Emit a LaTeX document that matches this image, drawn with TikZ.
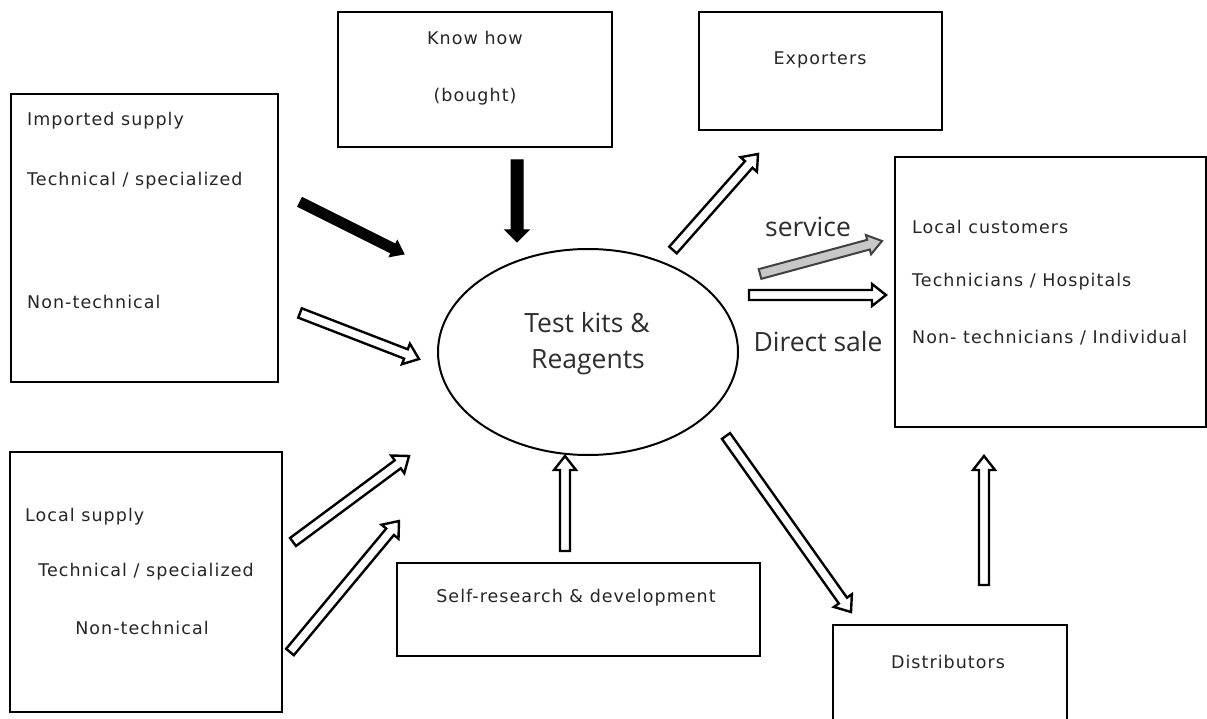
\documentclass[tikz,border=0pt]{standalone}
\usepackage{fontspec}
\usetikzlibrary{calc,shapes.geometric}
\newfontfamily\smallfont[LetterSpace=6]{DejaVu Sans}
\newfontfamily\bigfont{Open Sans}

% block arrow: #1 style, #2 tail, #3 tip, #4 half shaft width, #5 half head width, #6 head length
\newcommand{\blockarr}[6]{%
  \coordinate (bh) at ($(#3)!#6!(#2)$);
  \draw[#1] ($(#2)!#4!90:(#3)$) -- ($(bh)!#4!90:(#3)$) -- ($(bh)!#5!90:(#3)$)
    -- (#3) -- ($(bh)!#5!-90:(#3)$) -- ($(bh)!#4!-90:(#3)$) -- ($(#2)!#4!-90:(#3)$) -- cycle;
}

\tikzset{
  box/.style={draw, line width=2.8pt, inner sep=0pt},
  lbl/.style={font=\smallfont\fontsize{17.5}{20}\selectfont, text=black!85, inner sep=0pt},
  biglbl/.style={font=\bigfont\fontsize{26.5}{30}\selectfont, text=black!82, inner sep=0pt},
  hollow/.style={draw, line width=2.4pt, fill=white, line join=miter},
  solid/.style={draw, line width=1pt, fill=black, line join=miter},
  greyarr/.style={draw=black!75, line width=2pt, fill=black!22, line join=miter},
}

\begin{document}
\begin{tikzpicture}[x=1pt, y=-1pt]
\useasboundingbox (0,0) rectangle (1207,719);
\clip (0,0) rectangle (1207,719);
\fill[white] (0,0) rectangle (1207,719);

% boxes
\node[box, minimum width=267pt, minimum height=288pt] (imp) at (144.5,238) {};
\node[box, minimum width=274pt, minimum height=135pt] (know) at (475,79.5) {};
\node[box, minimum width=243pt, minimum height=118pt] (exp) at (820.5,71) {};
\node[box, minimum width=311pt, minimum height=270pt] (cust) at (1050.5,292) {};
\node[box, minimum width=272pt, minimum height=260pt] (loc) at (146,582) {};
\node[box, minimum width=363pt, minimum height=93pt] (self) at (578.5,609.5) {};
\node[box, minimum width=234pt, minimum height=120pt] (dist) at (950,685) {};

% central ellipse
\node[draw, ellipse, line width=2pt, minimum width=300pt, minimum height=206pt, inner sep=0pt] (kit) at (588,352) {};
\node[biglbl] (kit1) at (587,323) {Test kits \&};
\node[biglbl] (kit2) at (588,362) {Reagents};

% box texts
\node[lbl, anchor=west] (imp1) at (27,121) {Imported supply};
\node[lbl, anchor=west] (imp2) at (27,181) {Technical / specialized};
\node[lbl, anchor=west] (imp3) at (27,302) {Non-technical};
\node[lbl] (know1) at (475,38) {Know how};
\node[lbl] (know2) at (475,97) {(bought)};
\node[lbl] (exp1) at (820,60) {Exporters};
\node[lbl, anchor=west] (cust1) at (912,227) {Local customers};
\node[lbl, anchor=west] (cust2) at (912,282) {Technicians / Hospitals};
\node[lbl, anchor=west] (cust3) at (912,338) {Non- technicians / Individual};
\node[lbl, anchor=west] (loc1) at (25,517) {Local supply};
\node[lbl] (loc2) at (146,572) {Technical / specialized};
\node[lbl] (loc3) at (142,628) {Non-technical};
\node[lbl] (self1) at (576,598) {Self-research \& development};
\node[lbl] (dist1) at (948,662) {Distributors};

\node[biglbl] (svc) at (808,227) {service};
\node[biglbl] (dsale) at (818,342) {Direct sale};

% arrow end points
\coordinate (a1s) at (300,202);  \coordinate (a1e) at (404,254);
\coordinate (a2s) at (300,313);  \coordinate (a2e) at (419,359);
\coordinate (a3s) at (517,160);  \coordinate (a3e) at (517,242);
\coordinate (a4s) at (293,542);  \coordinate (a4e) at (409,456);
\coordinate (a5s) at (290,652);  \coordinate (a5e) at (399,521);
\coordinate (a6s) at (565,551);  \coordinate (a6e) at (565,456);
\coordinate (a7s) at (673,250);  \coordinate (a7e) at (758,154);
\coordinate (a8s) at (760,274);  \coordinate (a8e) at (882,241);
\coordinate (a9s) at (749,295);  \coordinate (a9e) at (886,295);
\coordinate (a10s) at (726,436); \coordinate (a10e) at (851,612);
\coordinate (a11s) at (984,585); \coordinate (a11e) at (984,456);

% arrows
\blockarr{solid}{a1s}{a1e}{5pt}{9pt}{12pt}
\blockarr{hollow}{a2s}{a2e}{5pt}{11pt}{14pt}
\blockarr{solid}{a3s}{a3e}{6pt}{12pt}{12pt}
\blockarr{hollow}{a4s}{a4e}{5pt}{11pt}{14pt}
\blockarr{hollow}{a5s}{a5e}{5pt}{11pt}{14pt}
\blockarr{hollow}{a6s}{a6e}{5pt}{11pt}{14pt}
\blockarr{hollow}{a7s}{a7e}{5pt}{11pt}{14pt}
\blockarr{greyarr}{a8s}{a8e}{5pt}{10pt}{14pt}
\blockarr{hollow}{a9s}{a9e}{5pt}{11pt}{14pt}
\blockarr{hollow}{a10s}{a10e}{5pt}{11pt}{14pt}
\blockarr{hollow}{a11s}{a11e}{5pt}{11pt}{14pt}
\end{tikzpicture}
\end{document}
